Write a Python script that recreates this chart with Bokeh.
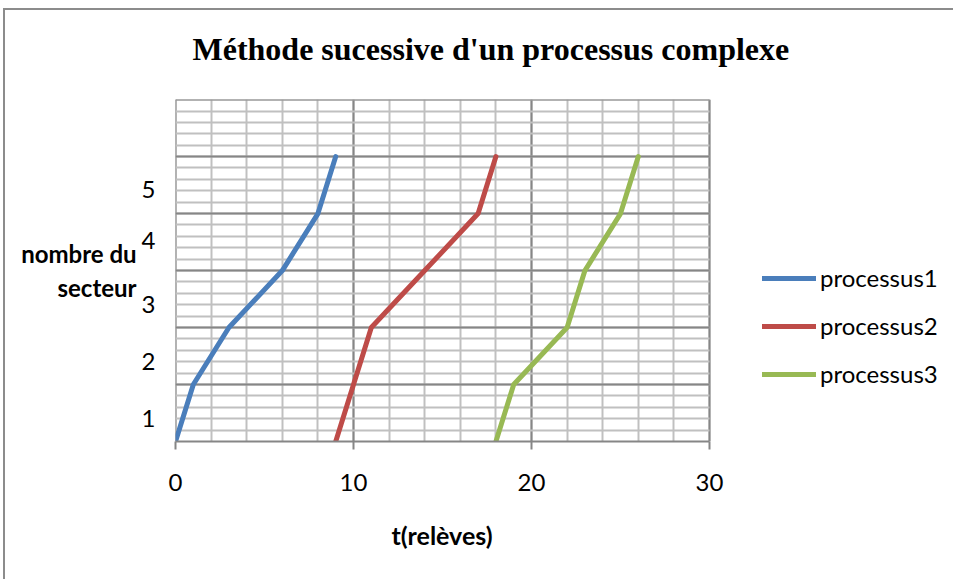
from bokeh.plotting import figure
from bokeh.models import Range1d, FixedTicker, Legend, LegendItem, Title
from bokeh.embed import file_html
from bokeh.resources import INLINE

# Sector reached (y) against the reading index t (x) for each process
sectors = [0, 1, 2, 3, 4, 5]
t_processus1 = [0, 1, 3, 6, 8, 9]
t_processus2 = [9, 10, 11, 14, 17, 18]
t_processus3 = [18, 19, 22, 23, 25, 26]
series_names = ["processus1", "processus2", "processus3"]
series_colors = ["#4a7ebb", "#be4b48", "#98b954"]

# Sector numbers are written between the grid lines
sector_labels = ["1", "2", "3", "4", "5"]
sector_label_pos = [0.4, 1.4, 2.4, 3.53, 4.42]
x_ticks = [0, 10, 20, 30]

T_MIN, T_MAX = 0, 30
S_MIN, S_MAX = 0, 6
TEXT_FONT = "Lato"
# tiny pad so the border grid lines at t=0 and sector 6 are drawn too
EDGE_PAD = 0.002

# The frame runs on to the right edge so the legend can sit beside the grid;
# grid and axis are bounded to the t range 0..30.
FIG_W = 950
FRAME_LEFT = 170
FRAME_W_GRID = 534
FRAME_W = FIG_W - FRAME_LEFT
p = figure(width=FIG_W, height=571, output_backend="svg", toolbar_location=None,
           title=None,
           x_range=Range1d(T_MIN - EDGE_PAD,
                           T_MIN + (T_MAX - T_MIN) * FRAME_W / FRAME_W_GRID),
           y_range=Range1d(S_MIN, S_MAX + EDGE_PAD),
           min_border_left=FRAME_LEFT, min_border_top=89,
           min_border_right=0, min_border_bottom=140)
p.styles = {"margin-left": "3px", "margin-top": "8px",
            "border-left": "2px solid #8c8c8c", "border-top": "2px solid #8c8c8c",
            "border-right": "none", "border-bottom": "none"}
p.background_fill_color = "white"
p.border_fill_color = "white"
p.outline_line_color = None

# chart title, lifted off the grid by an empty spacer row
p.add_layout(Title(text=" ", text_font_size="10px", standoff=6), "above")
p.add_layout(Title(text="Méthode sucessive d'un processus complexe",
                   text_font="Liberation Serif", text_font_style="bold",
                   text_font_size="32px", text_color="black",
                   align="left", offset=17, vertical_align="bottom", standoff=27), "above")

# grids: major every 10 / 1 sector, minor every 2 / 0.2 sector
p.xgrid.ticker = FixedTicker(ticks=x_ticks, minor_ticks=list(range(0, 31, 2)))
p.ygrid.ticker = FixedTicker(ticks=list(range(S_MIN, S_MAX + 1)),
                             minor_ticks=[i / 5 for i in range(0, 31)])
p.xgrid.bounds = (T_MIN, T_MAX)
p.ygrid.cross_bounds = (T_MIN, T_MAX)
for g in (p.xgrid, p.ygrid):
    g.grid_line_color = "#868686"
    g.grid_line_width = 2
    g.minor_grid_line_color = "#c0c0c0"
    g.minor_grid_line_width = 2

xa = p.xaxis[0]
xa.ticker = FixedTicker(ticks=x_ticks)
xa.bounds = (T_MIN, T_MAX)
xa.axis_line_color = "#868686"
xa.axis_line_width = 2
xa.major_tick_line_color = "#868686"
xa.major_tick_line_width = 2
xa.major_tick_in = 0
xa.major_tick_out = 8
xa.minor_tick_line_color = None
xa.major_label_standoff = 24
xa.major_label_text_font = TEXT_FONT
xa.major_label_text_font_size = "24px"
xa.major_label_text_color = "black"

# x axis title, placed under the middle of the 0..30 grid
p.add_layout(Title(text="t(relèves)", align="left", offset=216,
                   text_font=TEXT_FONT, text_font_style="bold",
                   text_font_size="25px", text_color="black",
                   vertical_align="top", standoff=52), "below")

ya = p.yaxis[0]
ya.ticker = FixedTicker(ticks=sector_label_pos)
ya.major_label_overrides = {pos: lab for pos, lab in zip(sector_label_pos, sector_labels)}
ya.axis_line_color = None
ya.major_tick_line_color = None
ya.minor_tick_line_color = None
ya.major_label_standoff = 14
ya.major_label_text_font = TEXT_FONT
ya.major_label_text_font_size = "24px"
ya.major_label_text_color = "black"
ya.axis_label = "nombre du\nsecteur"
ya.axis_label_orientation = "horizontal"
ya.axis_label_standoff = 2
ya.axis_label_text_font = TEXT_FONT
ya.axis_label_text_font_style = "bold"
ya.axis_label_text_font_size = "24px"
ya.axis_label_text_color = "black"
ya.axis_label_text_align = "center"

renderers = []
for xs, color in zip([t_processus1, t_processus2, t_processus3], series_colors):
    r = p.line(xs, sectors, line_width=5, line_color=color, line_join="round", line_cap="round")
    renderers.append(r)

legend = Legend(items=[LegendItem(label=n, renderers=[r]) for n, r in zip(series_names, renderers)],
                location=(587, 53), orientation="vertical",
                glyph_width=54, glyph_height=20, label_height=20, spacing=19,
                label_standoff=4, padding=0, margin=0,
                border_line_color=None, background_fill_alpha=0,
                label_text_font=TEXT_FONT, label_text_font_size="24px",
                label_text_color="black")
p.add_layout(legend)

open("out.html", "w").write(file_html(p, INLINE))
